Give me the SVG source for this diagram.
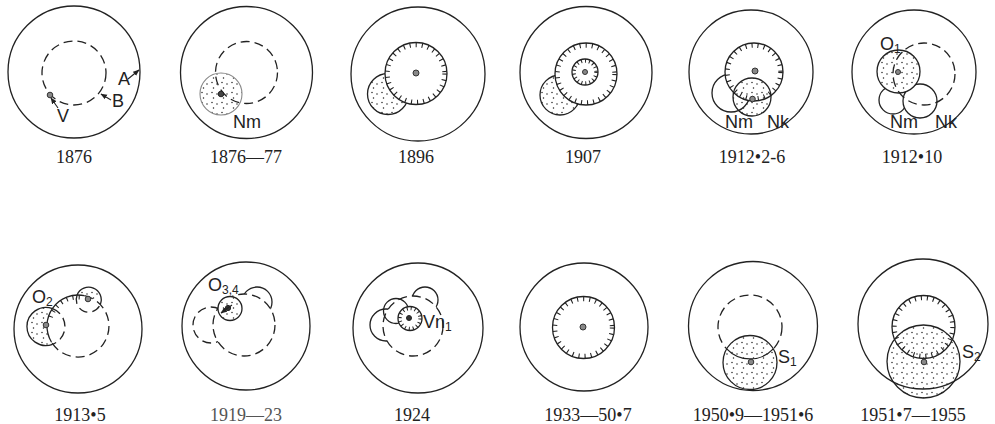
<svg xmlns="http://www.w3.org/2000/svg" width="995" height="424" viewBox="0 0 995 424">
<defs>
<style>
.o{fill:none;stroke:#222;stroke-width:1.3}
.ow{fill:#fff;stroke:#222;stroke-width:1.3}
.d{fill:none;stroke:#222;stroke-width:1.3;stroke-dasharray:9 5}
.dw{fill:#fff;stroke:#222;stroke-width:1.3;stroke-dasharray:9 5}
.h{fill:none;stroke:#222;stroke-width:4.6;stroke-dasharray:1.1 5}
.hs{fill:none;stroke:#222;stroke-width:3.6;stroke-dasharray:1 3}
.dt{fill:url(#dots);stroke:#222;stroke-width:1.3}
.bg{fill:#fff;stroke:none}
.c{fill:#888;stroke:#333;stroke-width:1}
.lbl{font-family:"Liberation Sans",Arial,sans-serif;font-size:18px;fill:#222}
.sub{font-size:12px}
.yr{font-family:"Liberation Serif","Times New Roman",serif;font-size:18px;fill:#222;text-anchor:middle}
.ld{fill:none;stroke:#222;stroke-width:1.1}
</style>
<pattern id="dots" width="10" height="10" patternUnits="userSpaceOnUse">
<circle cx="2" cy="2.5" r="0.75" fill="#222"/><circle cx="7" cy="4" r="0.75" fill="#222"/><circle cx="3.5" cy="8" r="0.75" fill="#222"/>
</pattern>
<marker id="ah" viewBox="0 0 10 10" refX="9" refY="5" markerWidth="6" markerHeight="6" orient="auto"><path d="M0,1 L10,5 L0,9 z" fill="#222"/></marker>
</defs>
<rect width="995" height="424" fill="#fff"/>

<g id="p1876">
<circle class="o" cx="74" cy="72" r="66"/>
<circle class="d" cx="74" cy="73" r="32"/>
<circle class="c" cx="50" cy="95" r="2.8"/>
<text class="lbl" x="118" y="85">A</text>
<text class="lbl" x="112" y="107">B</text>
<text class="lbl" x="57" y="122">V</text>
<text class="yr" x="74" y="163">1876</text>
</g>

<g id="p1876-77">
<circle class="o" cx="246.5" cy="72.5" r="66"/>
<circle fill="url(#dots)" stroke="#888" stroke-width="1.1" cx="221" cy="94" r="21"/>
<circle class="d" cx="246.5" cy="72.5" r="31"/>
<circle fill="#444" stroke="#222" cx="221" cy="94" r="2.8"/>
<text class="lbl" x="233" y="128">Nm</text>
<text class="yr" x="246" y="163">1876—77</text>
</g>

<g id="p1896">
<circle class="o" cx="418" cy="74" r="67"/>
<circle class="dt" cx="388" cy="94" r="20.5"/>
<circle class="ow" cx="416" cy="73.5" r="31"/>
<circle class="h" cx="416" cy="73.5" r="28.6"/>
<circle class="c" cx="416" cy="73" r="3"/>
<text class="yr" x="416" y="163">1896</text>
</g>

<g id="p1907">
<circle class="o" cx="586" cy="72.5" r="66"/>
<circle class="dt" cx="560" cy="95" r="20"/>
<circle class="ow" cx="586" cy="74" r="31"/>
<circle class="h" cx="586" cy="74" r="28.6"/>
<circle class="o" cx="585" cy="72" r="13"/>
<circle class="hs" cx="585" cy="72" r="11.1"/>
<circle class="c" cx="585" cy="72" r="2.5"/>
<text class="yr" x="583" y="163">1907</text>
</g>

<g id="p1912-2-6">
<circle class="o" cx="751" cy="72" r="62"/>
<circle class="ow" cx="731" cy="93" r="19"/>
<circle class="ow" cx="754" cy="72" r="29"/>
<circle class="h" cx="754" cy="72" r="26.6"/>
<circle class="c" cx="755" cy="71" r="3"/>
<circle class="dt" cx="752" cy="97" r="19"/>
<circle class="c" cx="752.5" cy="99" r="2.8"/>
<text class="lbl" x="725" y="128">Nm</text>
<text class="lbl" x="767" y="128">Nk</text>
<text class="yr" x="752" y="163">1912•2-6</text>
</g>

<g id="p1912-10">
<circle class="o" cx="914" cy="72" r="62"/>
<circle class="ow" cx="893" cy="100" r="14"/>
<circle class="ow" cx="920" cy="101" r="17"/>
<circle class="bg" cx="898.5" cy="71.5" r="21.5"/>
<circle class="dt" cx="898.5" cy="71.5" r="21.5"/>
<circle class="d" cx="924" cy="74" r="31"/>
<circle class="c" cx="898" cy="72" r="2.5"/>
<text class="lbl" x="880" y="50">O<tspan class="sub" dy="3">1</tspan></text>
<text class="lbl" x="890" y="128">Nm</text>
<text class="lbl" x="935" y="128">Nk</text>
<text class="yr" x="912" y="163">1912•10</text>
</g>

<g id="p1913-5">
<circle class="o" cx="78" cy="329" r="64"/>
<path d="M52.6,308.7 A19,19 0 1,0 52.6,344.3 A31,31 0 0,1 52.6,308.7 Z" fill="url(#dots)"/>
<path class="o" d="M52.6,308.7 A19,19 0 1,0 52.6,344.3"/>
<path class="d" d="M52.6,308.7 A19,19 0 0,1 52.6,344.3"/>
<path d="M77.1,295 A12.5,12.5 0 1,1 100.3,304.4 A31,31 0 0,0 77.1,295 Z" fill="url(#dots)"/>
<path class="o" d="M77.1,295 A12.5,12.5 0 1,1 100.3,304.4"/>
<path class="d" d="M77.1,295 A12.5,12.5 0 0,0 100.3,304.4"/>
<path class="o" d="M51.4,342 A31,31 0 0,1 84.4,295.7"/>
<path class="d" d="M84.4,295.7 A31,31 0 1,1 51.4,342"/>
<path class="h" d="M50.6,317.1 A28.8,28.8 0 0,1 84,297.8"/>
<circle class="c" cx="46" cy="325" r="2.8"/>
<circle class="c" cx="88" cy="299" r="2.8"/>
<text class="lbl" x="32" y="303">O<tspan class="sub" dy="3">2</tspan></text>
<text class="yr" x="80" y="421">1913•5</text>
</g>

<g id="p1919-23">
<circle class="o" cx="246" cy="326" r="64"/>
<circle class="dw" cx="211" cy="325" r="18"/>
<circle class="ow" cx="257" cy="302" r="15"/>
<circle class="dw" cx="244" cy="325" r="31"/>
<circle class="bg" cx="230" cy="308.5" r="12"/>
<circle class="dt" cx="230" cy="308.5" r="12"/>
<circle fill="#333" stroke="#222" cx="228" cy="308" r="2.6"/>
<text class="lbl" x="208" y="291">O<tspan class="sub" dy="3">3,4</tspan></text>
<text class="yr" x="246" y="421" style="fill:#555">1919—23</text>
</g>

<g id="p1924">
<circle class="o" cx="418" cy="328" r="65"/>
<circle class="ow" cx="386" cy="325" r="16"/>
<circle class="ow" cx="425" cy="300" r="13"/>
<circle class="dw" cx="413" cy="326" r="30"/>
<circle class="o" cx="396" cy="311" r="12.5"/>
<circle class="ow" cx="410" cy="318.5" r="12"/>
<circle class="hs" cx="410" cy="318.5" r="10.1"/>
<circle fill="#333" stroke="#222" cx="409" cy="318" r="2.5"/>
<text class="lbl" x="423" y="328">Vn<tspan class="sub" dy="3">1</tspan></text>
<text class="yr" x="412" y="421">1924</text>
</g>

<g id="p1933-50-7">
<circle class="o" cx="584" cy="327" r="64"/>
<circle class="o" cx="583.5" cy="327.5" r="31"/>
<circle class="h" cx="583.5" cy="327.5" r="28.6"/>
<circle class="c" cx="583" cy="327" r="3"/>
<text class="yr" x="588" y="421">1933—50•7</text>
</g>

<g id="p1950-9">
<circle class="o" cx="753" cy="326" r="64.5"/>
<circle class="d" cx="750" cy="327" r="32"/>
<circle class="bg" cx="750" cy="362.5" r="27"/>
<circle class="dt" cx="750" cy="362.5" r="27"/>
<path class="o" d="M726.7,348.9 A32,32 0 0,0 773.3,348.9"/>
<circle class="c" cx="751" cy="362" r="2.8"/>
<text class="lbl" x="778" y="363">S<tspan class="sub" dy="3">1</tspan></text>
<text class="yr" x="753" y="421">1950•9—1951•6</text>
</g>

<g id="p1951-7">
<circle class="o" cx="923" cy="324" r="65"/>
<circle class="o" cx="923.5" cy="327" r="31.5"/>
<circle class="h" cx="923.5" cy="327" r="29.1"/>
<circle class="dt" cx="923.5" cy="361.5" r="36.5"/>
<circle class="c" cx="924" cy="362" r="2.8"/>
<text class="lbl" x="962" y="358">S<tspan class="sub" dy="3">2</tspan></text>
<text class="yr" x="913" y="421">1951•7—1955</text>
</g>

<g id="connectors">
<line class="ld" x1="128" y1="79" x2="139" y2="70" marker-end="url(#ah)"/>
<line class="ld" x1="111" y1="100" x2="101" y2="94" marker-end="url(#ah)"/>
<line class="ld" x1="58" y1="108" x2="51" y2="98" marker-end="url(#ah)"/>
<line class="ld" x1="232" y1="305" x2="221" y2="313" marker-end="url(#ah)"/>
</g>
</svg>
